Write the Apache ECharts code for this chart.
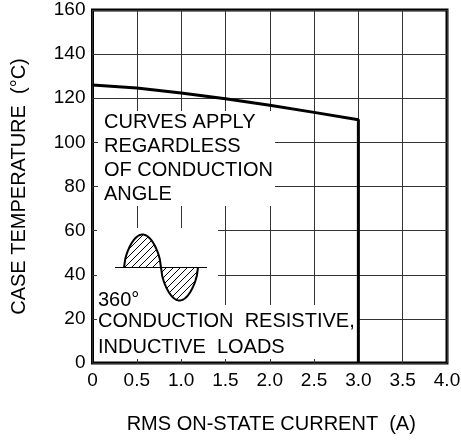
<!DOCTYPE html>
<html>
<head>
<meta charset="utf-8">
<script src="https://cdn.jsdelivr.net/npm/echarts@6/dist/echarts.min.js"></script>
<style>
html,body{margin:0;padding:0;background:#fff;}
#chart{width:461px;height:441px;}
</style>
</head>
<body>
<div id="chart"></div>
<script>
// ---- data ----
const currentA = [0, 0.5, 1.0, 1.5, 2.0, 2.5, 3.0, 3.0];
const caseTempC = [126, 124.6, 122.4, 119.8, 116.8, 113.6, 110.3, 0];
const xTickLabels = ['0', '0.5', '1.0', '1.5', '2.0', '2.5', '3.0', '3.5', '4.0'];
const yTickLabels = ['0', '20', '40', '60', '80', '100', '120', '140', '160'];
const xAxisTitle = 'RMS ON-STATE CURRENT  (A)';
const yAxisTitle = 'CASE TEMPERATURE  (\u00B0C)';
const noteTop = ['CURVES APPLY', 'REGARDLESS', 'OF CONDUCTION', 'ANGLE'];
const noteBottom = ['360\u00B0', 'CONDUCTION  RESISTIVE,', 'INDUCTIVE  LOADS'];

const FONT = '"Liberation Sans", Arial, Helvetica, sans-serif';

const seriesData = currentA.map((x, i) => [x, caseTempC[i]]);

// hatch pattern for the waveform icon
function makeHatch(size) {
  const c = document.createElement('canvas');
  c.width = size; c.height = size;
  const g = c.getContext('2d');
  g.strokeStyle = '#000';
  g.lineWidth = 1;
  g.beginPath();
  g.moveTo(0, size); g.lineTo(size, 0);
  g.moveTo(-1, 1); g.lineTo(1, -1);
  g.moveTo(size - 1, size + 1); g.lineTo(size + 1, size - 1);
  g.stroke();
  return c;
}
const hatch = makeHatch(7);

// waveform icon geometry (decorative, not data)
const base = 267.5, amp = 33, x0 = 124, xm = 161, x1 = 198;
function lobe(xa, xb, sign) {
  const pts = [];
  const n = 30;
  for (let i = 0; i <= n; i++) {
    const t = i / n;
    const s = Math.pow(Math.sin(Math.PI * t), 0.6);
    pts.push([xa + (xb - xa) * t, base - sign * amp * s]);
  }
  return pts;
}
const posLobe = lobe(x0, xm, 1);
const negLobe = lobe(xm, x1, -1);
const wave = posLobe.concat(negLobe.slice(1));

const graphics = [
  { type: 'rect', z: 1, z2: 0, shape: { x: 98, y: 111, width: 177, height: 95 }, style: { fill: '#fff' }, silent: true },
  { type: 'rect', z: 1, z2: 0, shape: { x: 97, y: 228, width: 121, height: 78 }, style: { fill: '#fff' }, silent: true },
  { type: 'rect', z: 1, z2: 0, shape: { x: 97, y: 305, width: 260, height: 54 }, style: { fill: '#fff' }, silent: true },
  { type: 'polygon', z: 1, z2: 1, shape: { points: posLobe }, style: { fill: { image: hatch, repeat: 'repeat' }, stroke: null }, silent: true },
  { type: 'polygon', z: 1, z2: 1, shape: { points: negLobe }, style: { fill: { image: hatch, repeat: 'repeat' }, stroke: null }, silent: true },
  { type: 'line', z: 1, z2: 2, shape: { x1: 115, y1: base, x2: 207, y2: base }, style: { stroke: '#000', lineWidth: 1.2 }, silent: true },
  { type: 'polyline', z: 1, z2: 3, shape: { points: wave }, style: { stroke: '#000', lineWidth: 2, fill: null, lineJoin: 'round' }, silent: true }
];
const topCenters = [122, 146, 170, 194];
noteTop.forEach((t, i) => {
  graphics.push({ type: 'text', z: 1, z2: 4, silent: true,
    style: { text: t, x: 104, y: topCenters[i], fill: '#000', font: '20px ' + FONT, textAlign: 'left', textVerticalAlign: 'middle' } });
});
const botCenters = [300, 321, 347.5];
noteBottom.forEach((t, i) => {
  graphics.push({ type: 'text', z: 1, z2: 4, silent: true,
    style: { text: t, x: 98, y: botCenters[i], fill: '#000', font: '20px ' + FONT, textAlign: 'left', textVerticalAlign: 'middle' } });
});

const chart = echarts.init(document.getElementById('chart'), null, { renderer: 'canvas' });
chart.setOption({
  animation: false,
  backgroundColor: '#fff',
  grid: {
    left: 92.5, right: 14, top: 10, bottom: 78,
    show: true, borderColor: '#000', borderWidth: 3, backgroundColor: 'transparent',
    containLabel: false, outerBoundsMode: 'none'
  },
  xAxis: {
    type: 'value', min: 0, max: 4, interval: 0.5,
    axisLine: { show: false }, axisTick: { show: false },
    splitLine: { show: true, lineStyle: { color: '#333', width: 1 } },
    axisLabel: { margin: 8, color: '#000', fontSize: 19, fontFamily: FONT,
      formatter: v => xTickLabels[Math.round(v / 0.5)] },
    name: xAxisTitle, nameLocation: 'middle', nameGap: 51,
    nameTextStyle: { color: '#000', fontSize: 20, fontFamily: FONT, padding: [0, 0, 0, 3] }
  },
  yAxis: {
    type: 'value', min: 0, max: 160, interval: 20,
    axisLine: { show: false }, axisTick: { show: false },
    splitLine: { show: true, lineStyle: { color: '#333', width: 1 } },
    axisLabel: { margin: 7, color: '#000', fontSize: 19, fontFamily: FONT,
      formatter: v => yTickLabels[Math.round(v / 20)] },
    name: yAxisTitle, nameLocation: 'middle', nameGap: 63, nameRotate: 90,
    nameTextStyle: { color: '#000', fontSize: 20, fontFamily: FONT }
  },
  series: [{
    type: 'line', z: 2, data: seriesData, showSymbol: false, symbol: 'none',
    lineStyle: { color: '#000', width: 3 }, clip: false
  }],
  graphic: graphics
});
</script>
</body>
</html>
